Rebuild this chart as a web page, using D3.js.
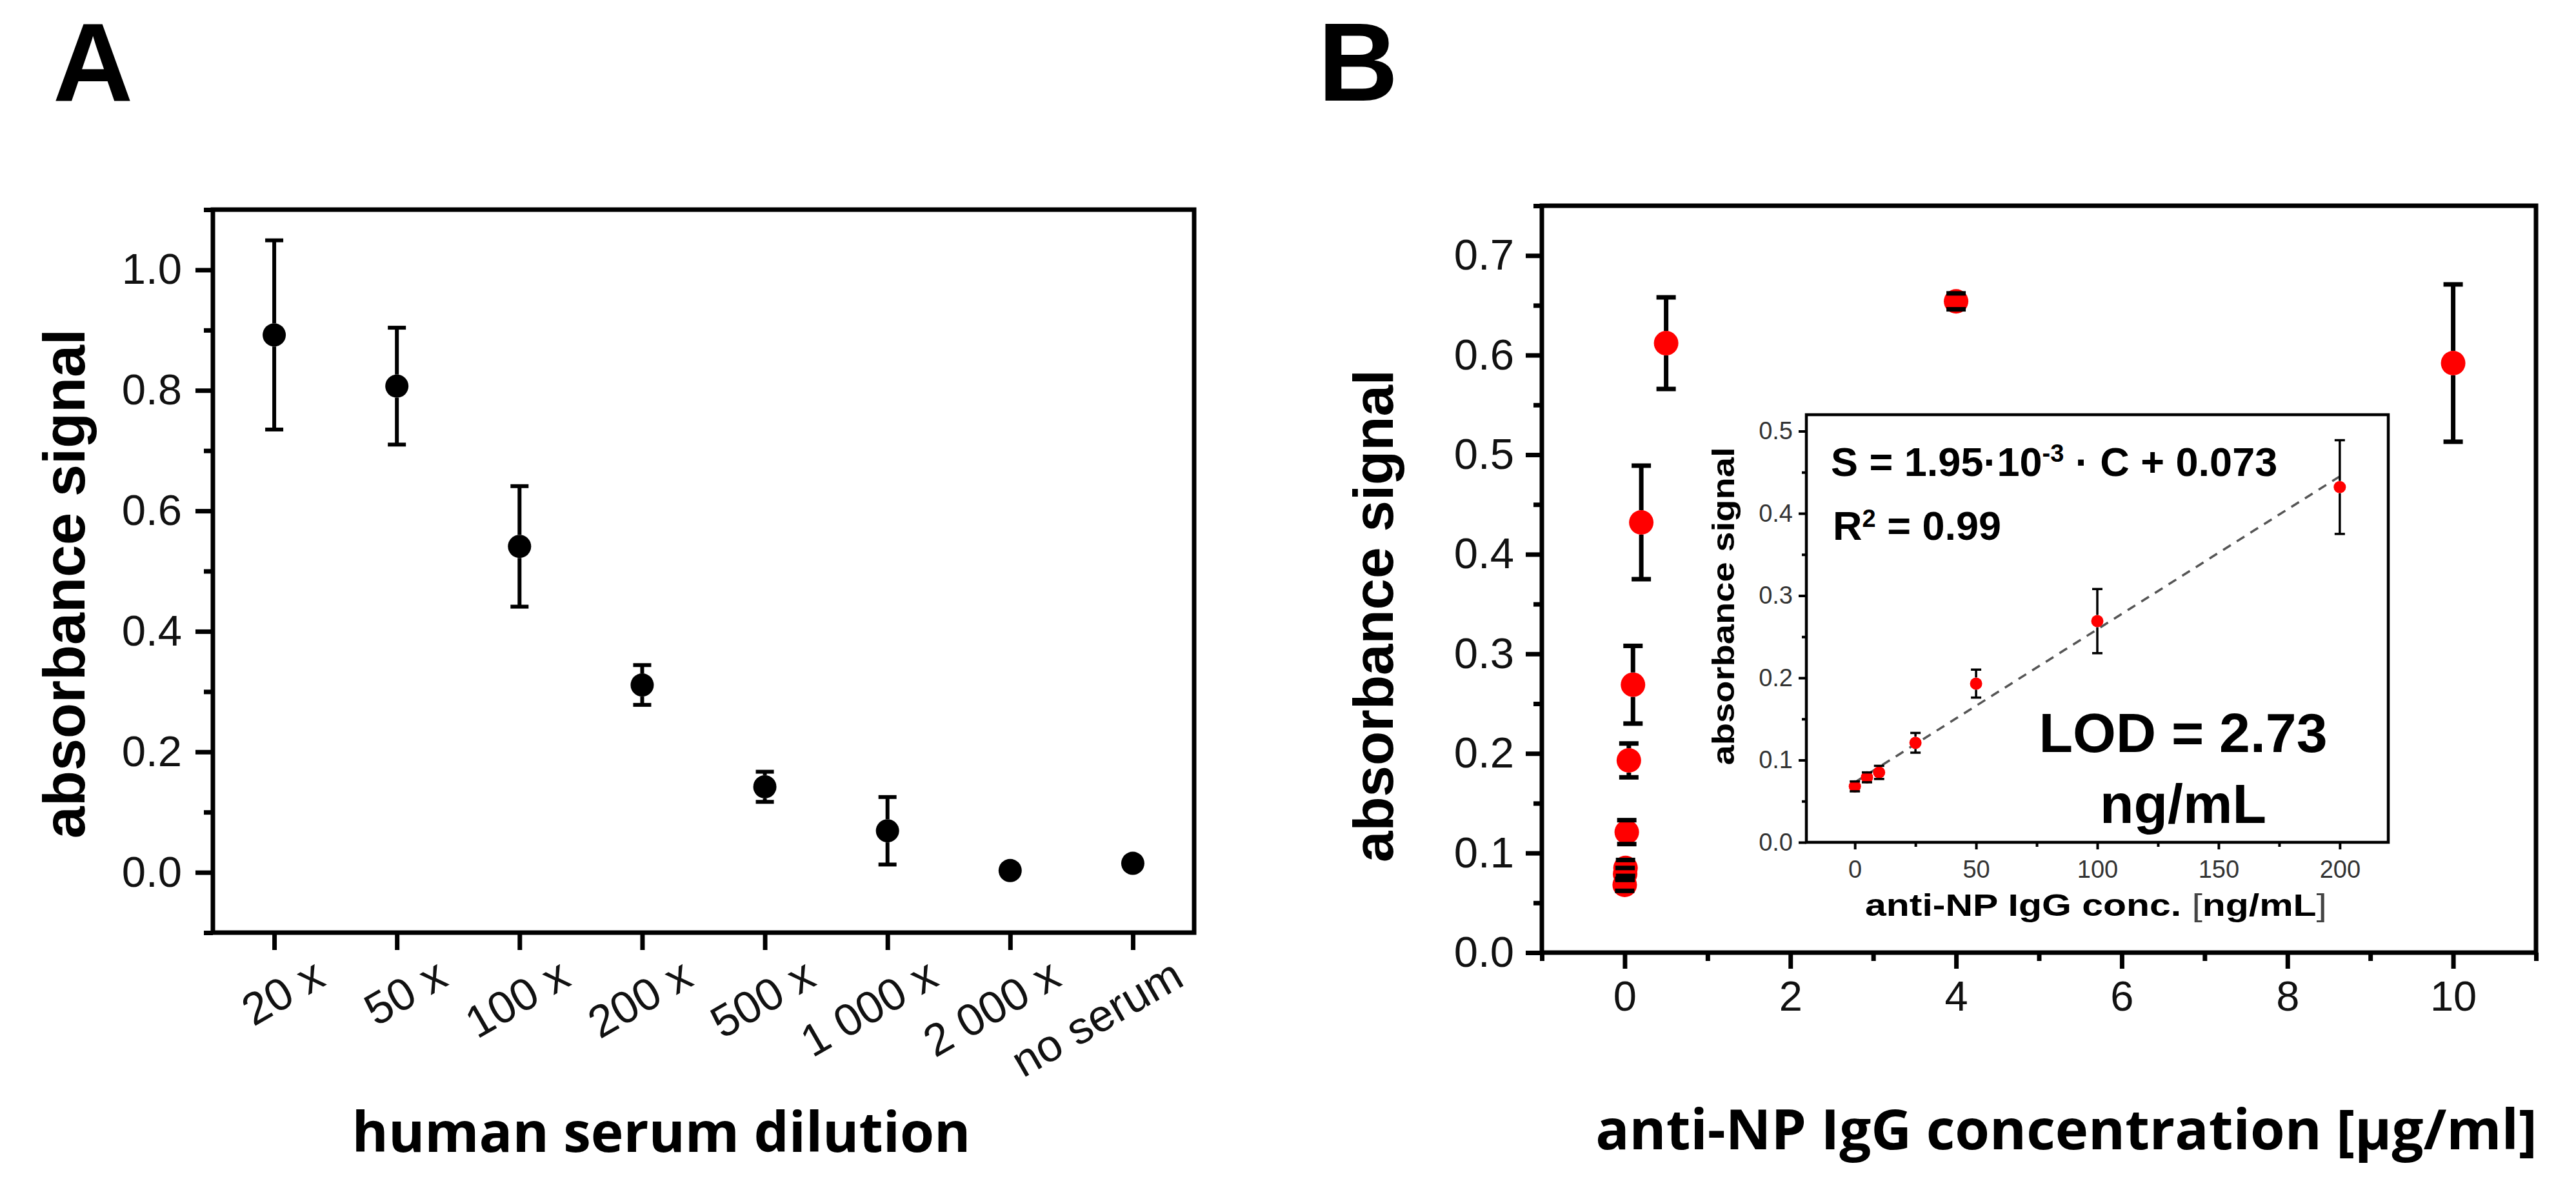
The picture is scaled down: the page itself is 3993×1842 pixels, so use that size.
<!DOCTYPE html>
<html>
<head>
<meta charset="utf-8">
<script src="https://cdn.jsdelivr.net/npm/d3@7"></script>
<style>
  body { margin: 0; background: #fff; }
  svg { display: block; }
  text { font-family: 'Liberation Sans', Arial, sans-serif; }
</style>
</head>
<body>
<div id="chart"></div>
<script>
// panel A: signal vs serum dilution
const dilutions = ['20 x', '50 x', '100 x', '200 x', '500 x', '1 000 x', '2 000 x', 'no serum'];
const signalA = [0.892, 0.807, 0.541, 0.311, 0.142, 0.069, 0.003, 0.015];
const errorA = [0.157, 0.097, 0.1, 0.033, 0.025, 0.056, 0, 0];

// panel B: signal vs anti-NP IgG concentration (µg/ml)
const concB = [0, 0.005, 0.01, 0.025, 0.05, 0.1, 0.2, 0.5, 4, 10];
const signalB = [0.068, 0.079, 0.085, 0.121, 0.193, 0.269, 0.432, 0.612, 0.654, 0.592];
const errorB = [0.006, 0.006, 0.008, 0.012, 0.017, 0.039, 0.057, 0.046, 0.008, 0.079];

// inset fit line end points (ng/mL, signal)
const fitLine = [[0, 0.073], [200, 0.445]];

// ticks
const yMajorA = [0, 0.2, 0.4, 0.6, 0.8, 1.0];
const yMinorA = [-0.1, 0.1, 0.3, 0.5, 0.7, 0.9, 1.1];
const yMajorB = [0, 0.1, 0.2, 0.3, 0.4, 0.5, 0.6, 0.7];
const yMinorB = [0.05, 0.15, 0.25, 0.35, 0.45, 0.55, 0.65, 0.75];
const xMajorB = [0, 2, 4, 6, 8, 10];
const xMinorB = [-1, 1, 3, 5, 7, 9, 11];
const xMajorInset = [0, 50, 100, 150, 200];
const xMinorInset = [25, 75, 125, 175];
const yMajorInset = [0, 0.1, 0.2, 0.3, 0.4, 0.5];
const yMinorInset = [0.05, 0.15, 0.25, 0.35, 0.45];

const width = 3993;
const height = 1842;

const svg = d3
  .select('#chart')
  .append('svg')
  .attr('width', width)
  .attr('height', height)
  .attr('viewBox', `0 0 ${width} ${height}`);

svg.append('rect').attr('width', width).attr('height', height).attr('fill', '#fff');

function styleAxis(g, fontSize, color, sw) {
  g.select('.domain').remove();
  g.selectAll('.tick line').attr('stroke', '#000').attr('stroke-width', sw);
  g.selectAll('.tick text')
    .attr('fill', color)
    .style('font-size', fontSize + 'px')
    .style('font-family', "'Liberation Sans', Arial, sans-serif");
  return g;
}

function fitWidth(text, target) {
  const fs = parseFloat(text.style('font-size'));
  const len = text.node().getComputedTextLength();
  text.style('font-size', (fs * target) / len + 'px');
}

function errorBars(g, pts, x, y, r, cap, sw) {
  pts.forEach((d) => {
    if (!d.e) return;
    const cx = x(d.x);
    const cy = y(d.v);
    const top = y(d.v + d.e);
    const bot = y(d.v - d.e);
    const segs = [];
    if (cy - top > r) segs.push([cx, cy - r, cx, top]);
    if (bot - cy > r) segs.push([cx, cy + r, cx, bot]);
    segs.push([cx - cap, top, cx + cap, top]);
    segs.push([cx - cap, bot, cx + cap, bot]);
    g.selectAll(null)
      .data(segs)
      .join('line')
      .attr('x1', (s) => s[0])
      .attr('y1', (s) => s[1])
      .attr('x2', (s) => s[2])
      .attr('y2', (s) => s[3])
      .attr('stroke', '#000')
      .attr('stroke-width', sw);
  });
}

// ---------------- panel A ----------------
const xA = d3.scaleLinear().domain([-0.5, 7.5]).range([330, 1851]);
const yA = d3.scaleLinear().domain([-0.1, 1.1]).range([1446, 325]);
const gA = svg.append('g');

gA.append('text')
  .attr('x', 82)
  .attr('y', 156)
  .style('font-size', '172px')
  .style('font-weight', 700)
  .text('A');

styleAxis(
  gA.append('g').attr('transform', 'translate(330,0)')
    .call(d3.axisLeft(yA).tickValues(yMajorA).tickSize(27).tickPadding(21).tickFormat(d3.format('.1f'))),
  67, '#111', 7
);
styleAxis(
  gA.append('g').attr('transform', 'translate(330,0)')
    .call(d3.axisLeft(yA).tickValues(yMinorA).tickSize(14).tickFormat('')),
  67, '#111', 7
);

const axA = styleAxis(
  gA.append('g').attr('transform', 'translate(0,1446)')
    .call(d3.axisBottom(xA).tickValues(d3.range(dilutions.length)).tickSize(27).tickFormat((i) => dilutions[i])),
  70, '#111', 7
);
axA.selectAll('.tick text')
  .attr('text-anchor', 'end')
  .attr('x', 0)
  .attr('y', 0)
  .attr('dy', 0)
  .attr('transform', 'translate(82,80) rotate(-30)');

gA.append('rect')
  .attr('x', 330)
  .attr('y', 325)
  .attr('width', 1521)
  .attr('height', 1121)
  .attr('fill', 'none')
  .attr('stroke', '#000')
  .attr('stroke-width', 7);

const ptsA = signalA.map((v, i) => ({ x: i, v: v, e: errorA[i] }));
gA.append('g')
  .selectAll('circle')
  .data(ptsA)
  .join('circle')
  .attr('cx', (d) => xA(d.x))
  .attr('cy', (d) => yA(d.v))
  .attr('r', 18)
  .attr('fill', '#000');
errorBars(gA.append('g'), ptsA, xA, yA, 18, 14, 6);

gA.append('text')
  .attr('transform', 'translate(131,905) rotate(-90)')
  .attr('text-anchor', 'middle')
  .style('font-size', '90px')
  .style('font-weight', 700)
  .text('absorbance signal');

const titleA = gA.append('text')
  .attr('x', 1025)
  .attr('y', 1786)
  .attr('text-anchor', 'middle')
  .style('font-family', "'Open Sans', sans-serif")
  .style('font-size', '86px')
  .style('font-weight', 700)
  .text('human serum dilution');
fitWidth(titleA, 959);

// ---------------- panel B ----------------
const xB = d3.scaleLinear().domain([-1, 11]).range([2390, 3931]);
const yB = d3.scaleLinear().domain([0, 0.75]).range([1477, 319]);
const gB = svg.append('g');

gB.append('text')
  .attr('x', 2043)
  .attr('y', 156)
  .style('font-size', '172px')
  .style('font-weight', 700)
  .text('B');

styleAxis(
  gB.append('g').attr('transform', 'translate(2390,0)')
    .call(d3.axisLeft(yB).tickValues(yMajorB).tickSize(25).tickPadding(18).tickFormat(d3.format('.1f'))),
  67, '#111', 7
);
styleAxis(
  gB.append('g').attr('transform', 'translate(2390,0)')
    .call(d3.axisLeft(yB).tickValues(yMinorB).tickSize(13).tickFormat('')),
  67, '#111', 7
);
styleAxis(
  gB.append('g').attr('transform', 'translate(0,1477)')
    .call(d3.axisBottom(xB).tickValues(xMajorB).tickSize(25).tickPadding(19).tickFormat(d3.format('d'))),
  65, '#111', 7
);
styleAxis(
  gB.append('g').attr('transform', 'translate(0,1477)')
    .call(d3.axisBottom(xB).tickValues(xMinorB).tickSize(13).tickFormat('')),
  65, '#111', 7
);

gB.append('rect')
  .attr('x', 2390)
  .attr('y', 319)
  .attr('width', 1541)
  .attr('height', 1158)
  .attr('fill', 'none')
  .attr('stroke', '#000')
  .attr('stroke-width', 7);

const ptsB = signalB.map((v, i) => ({ x: concB[i], v: v, e: errorB[i] }));
gB.append('g')
  .selectAll('circle')
  .data(ptsB)
  .join('circle')
  .attr('cx', (d) => xB(d.x))
  .attr('cy', (d) => yB(d.v))
  .attr('r', 19)
  .attr('fill', '#ff0000');
errorBars(gB.append('g'), ptsB, xB, yB, 19, 15, 7);

gB.append('text')
  .attr('transform', 'translate(2159,955) rotate(-90)')
  .attr('text-anchor', 'middle')
  .style('font-size', '87px')
  .style('font-weight', 700)
  .text('absorbance signal');

const titleB = gB.append('text')
  .attr('x', 3203)
  .attr('y', 1782)
  .attr('text-anchor', 'middle')
  .style('font-family', "'Open Sans', sans-serif")
  .style('font-size', '86px')
  .style('font-weight', 700)
  .text('anti-NP IgG concentration [µg/ml]');
fitWidth(titleB, 1460);

// ---------------- inset ----------------
const xI = d3.scaleLinear().domain([-20, 220]).range([2800, 3702]);
const yI = d3.scaleLinear().domain([0, 0.52]).range([1306, 643]);
const gI = svg.append('g');

gI.append('rect')
  .attr('x', 2800)
  .attr('y', 643)
  .attr('width', 902)
  .attr('height', 663)
  .attr('fill', '#fff')
  .attr('stroke', '#000')
  .attr('stroke-width', 4.5);

styleAxis(
  gI.append('g').attr('transform', 'translate(2800,0)')
    .call(d3.axisLeft(yI).tickValues(yMajorInset).tickSize(12).tickPadding(9).tickFormat(d3.format('.1f'))),
  38, '#333', 4
);
styleAxis(
  gI.append('g').attr('transform', 'translate(2800,0)')
    .call(d3.axisLeft(yI).tickValues(yMinorInset).tickSize(7).tickFormat('')),
  38, '#333', 4
);
styleAxis(
  gI.append('g').attr('transform', 'translate(0,1306)')
    .call(d3.axisBottom(xI).tickValues(xMajorInset).tickSize(11).tickPadding(17).tickFormat(d3.format('d'))),
  38, '#333', 4
);
styleAxis(
  gI.append('g').attr('transform', 'translate(0,1306)')
    .call(d3.axisBottom(xI).tickValues(xMinorInset).tickSize(7).tickFormat('')),
  38, '#333', 4
);

gI.append('path')
  .datum(fitLine)
  .attr('d', d3.line().x((d) => xI(d[0])).y((d) => yI(d[1])))
  .attr('fill', 'none')
  .attr('stroke', '#555')
  .attr('stroke-width', 3.5)
  .attr('stroke-dasharray', '14 11');

const ptsI = ptsB.filter((d) => d.x <= 0.2).map((d) => ({ x: d.x * 1000, v: d.v, e: d.e }));
gI.append('g')
  .selectAll('circle')
  .data(ptsI)
  .join('circle')
  .attr('cx', (d) => xI(d.x))
  .attr('cy', (d) => yI(d.v))
  .attr('r', 9.5)
  .attr('fill', '#ff0000');
errorBars(gI.append('g'), ptsI, xI, yI, 9.5, 8, 3.5);

const eq = gI.append('text')
  .attr('x', 2838)
  .attr('y', 738)
  .style('font-size', '63px')
  .style('font-weight', 700);
eq.append('tspan').text('S = 1.95·10');
eq.append('tspan').attr('dy', -22).style('font-size', '38px').text('-3');
eq.append('tspan').attr('dy', 22).text(' · C + 0.073');

const r2 = gI.append('text')
  .attr('x', 2841)
  .attr('y', 837)
  .style('font-size', '63px')
  .style('font-weight', 700);
r2.append('tspan').text('R');
r2.append('tspan').attr('dy', -20).style('font-size', '38px').text('2');
r2.append('tspan').attr('dy', 20).text(' = 0.99');

gI.append('text')
  .attr('x', 3384)
  .attr('y', 1166)
  .attr('text-anchor', 'middle')
  .style('font-size', '86px')
  .style('font-weight', 700)
  .text('LOD = 2.73');
gI.append('text')
  .attr('x', 3384)
  .attr('y', 1276)
  .attr('text-anchor', 'middle')
  .style('font-size', '86px')
  .style('font-weight', 700)
  .text('ng/mL');

gI.append('text')
  .attr('transform', 'translate(2688,940) rotate(-90)')
  .attr('text-anchor', 'middle')
  .attr('textLength', 493)
  .attr('lengthAdjust', 'spacingAndGlyphs')
  .style('font-size', '48px')
  .style('font-weight', 700)
  .text('absorbance signal');

const xTitleI = gI.append('text')
  .attr('x', 2891)
  .attr('y', 1420)
  .attr('textLength', 716)
  .attr('lengthAdjust', 'spacingAndGlyphs')
  .style('font-size', '49px')
  .style('font-weight', 700);
xTitleI.append('tspan').text('anti-NP IgG conc. ');
xTitleI.append('tspan').style('font-weight', 400).attr('fill', '#444').text('[');
xTitleI.append('tspan').text('ng/mL');
xTitleI.append('tspan').style('font-weight', 400).attr('fill', '#444').text(']');
</script>
</body>
</html>
